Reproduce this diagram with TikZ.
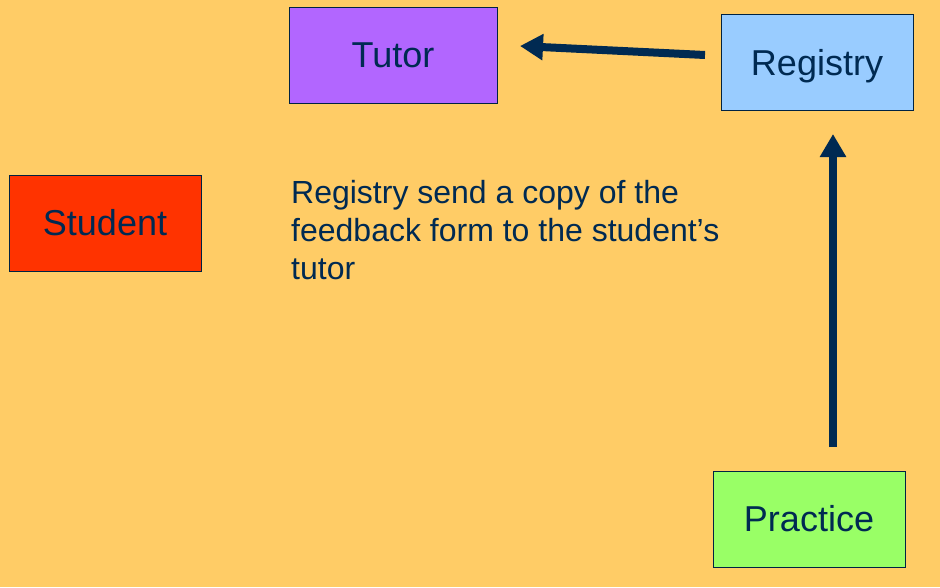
\documentclass[tikz,border=0pt]{standalone}
\usepackage{fontspec}
\setmainfont{Liberation Sans}
\usetikzlibrary{arrows.meta}
\definecolor{bg}{HTML}{FFCC66}
\definecolor{navy}{HTML}{002A52}
\definecolor{tutorc}{HTML}{B266FF}
\definecolor{regc}{HTML}{99CCFF}
\definecolor{studc}{HTML}{FF3300}
\definecolor{pracc}{HTML}{99FF66}
\tikzset{
  box/.style={draw=navy!80!black, line width=0.8pt, minimum width=192pt, minimum height=96pt, inner sep=0pt, text=navy, text height=25.8pt, text depth=0pt, font=\fontsize{36}{40}\selectfont},
  conn/.style={draw=navy, line width=8pt, -{Triangle[length=23pt,width=25pt]}}
}
\begin{document}
\begin{tikzpicture}[x=1pt,y=-1pt]
\fill[bg] (0,0) rectangle (940,587);
\useasboundingbox (0,0) rectangle (940,587);
\node[box, fill=tutorc, minimum width=208pt] (tutor) at (393,55) {Tutor};
\node[box, fill=regc] (registry) at (817,62.5) {Registry};
\node[box, fill=studc] (student) at (105,223) {Student};
\node[box, fill=pracc] (practice) at (809,519) {Practice};
\coordinate (a1s) at (705,55);
\coordinate (a1e) at (520,46);
\coordinate (a2s) at (833,447);
\coordinate (a2e) at (833,134);
\draw[conn] (a1s) -- (a1e);
\draw[conn] (a2s) -- (a2e);
\node[anchor=north west, align=left, text=navy, font=\fontsize{32}{38}\selectfont, inner sep=0pt] (txt) at (291,180) {Registry send a copy of the\\feedback form to the student’s\\tutor};
\end{tikzpicture}
\end{document}
